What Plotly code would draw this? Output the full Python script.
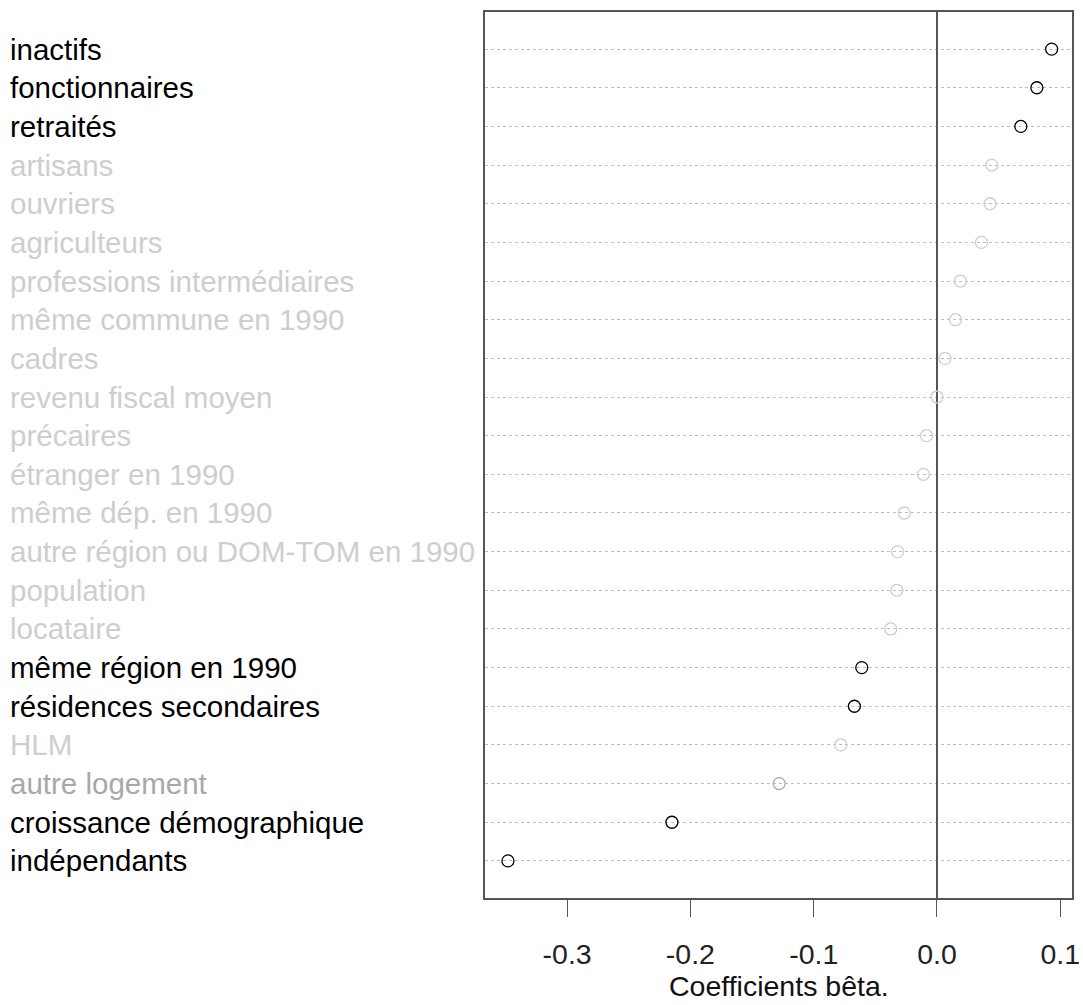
import plotly.graph_objects as go

# ── Data (top to bottom, as in the dotchart) ─────────────────────────────────

labels = [
    "inactifs", "fonctionnaires", "retraités", "artisans", "ouvriers",
    "agriculteurs", "professions intermédiaires", "même commune en 1990",
    "cadres", "revenu fiscal moyen", "précaires", "étranger en 1990",
    "même dép. en 1990", "autre région ou DOM-TOM en 1990", "population",
    "locataire", "même région en 1990", "résidences secondaires", "HLM",
    "autre logement", "croissance démographique", "indépendants",
]
betas = [
    0.093, 0.081, 0.068, 0.0445, 0.043,
    0.036, 0.019, 0.015,
    0.0065, 0.0, -0.0085, -0.011,
    -0.0265, -0.032, -0.0325,
    -0.0375, -0.061, -0.067, -0.078,
    -0.128, -0.215, -0.348,
]
# 2 = significant, 1 = weakly significant, 0 = not significant
signif = [2, 2, 2, 0, 0, 0, 0, 0, 0, 0, 0, 0, 0, 0, 0, 0, 2, 2, 0, 1, 2, 2]
x_ticks = [-0.3, -0.2, -0.1, 0.0, 0.1]

_SHADE = {2: "#000000", 1: "#a8a8a8", 0: "#cecece"}
_FONT = "Liberation Sans, Arial, sans-serif"

W, H = 1083, 1005
L, R, T, B = 485, 11, 12, 107

rows = list(range(len(labels)))
colors = [_SHADE[s] for s in signif]

fig = go.Figure(go.Scatter(
    x=betas,
    y=rows,
    mode="markers",
    marker=dict(
        symbol="circle-open",
        size=12,
        color=colors,
        line=dict(width=1.3, color=colors),
    ),
    hovertemplate="%{text}: %{x:.3f}<extra></extra>",
    text=labels,
    showlegend=False,
))

# row labels, left aligned at the image edge
plot_w = W - L - R
plot_h = H - T - B
for i, (lab, c) in enumerate(zip(labels, colors)):
    fig.add_annotation(
        x=(8 - L) / plot_w, xref="paper", xanchor="left",
        y=i, yref="y", yanchor="middle",
        text=lab, showarrow=False,
        font=dict(family=_FONT, size=29.5, color=c),
    )

fig.add_annotation(
    x=0.5, xref="paper", y=-(986 - (H - B)) / plot_h, yref="paper",
    text="Coefficients bêta.", showarrow=False,
    font=dict(family=_FONT, size=28.5, color="#111111"),
    yanchor="middle", borderpad=0,
)

fig.update_layout(
    width=W, height=H,
    margin=dict(l=L, r=R, t=T, b=B, autoexpand=False),
    paper_bgcolor="white",
    plot_bgcolor="white",
    font=dict(family=_FONT, size=28.5, color="#222222"),
    xaxis=dict(
        range=[-0.3666, 0.1095],
        tickvals=x_ticks,
        ticktext=[f"{v:.1f}" for v in x_ticks],
        ticks="outside", ticklen=17, tickwidth=1.3, tickcolor="#555555",
        ticklabelstandoff=13,
        showgrid=False,
        zeroline=True, zerolinecolor="#555555", zerolinewidth=1.5,
        showline=True, linecolor="#555555", linewidth=1.5, mirror=True,
    ),
    yaxis=dict(
        range=[len(labels) - 1 + 0.96, -0.96],
        tickvals=rows,
        showticklabels=False,
        showgrid=True, gridcolor="#bdbdbd", griddash="dot", gridwidth=1,
        zeroline=False,
        showline=True, linecolor="#555555", linewidth=1.5, mirror=True,
    ),
)

fig.write_html(
    "out.html",
    config={"displayModeBar": False},
    post_script="document.body.style.margin='0';",
)
